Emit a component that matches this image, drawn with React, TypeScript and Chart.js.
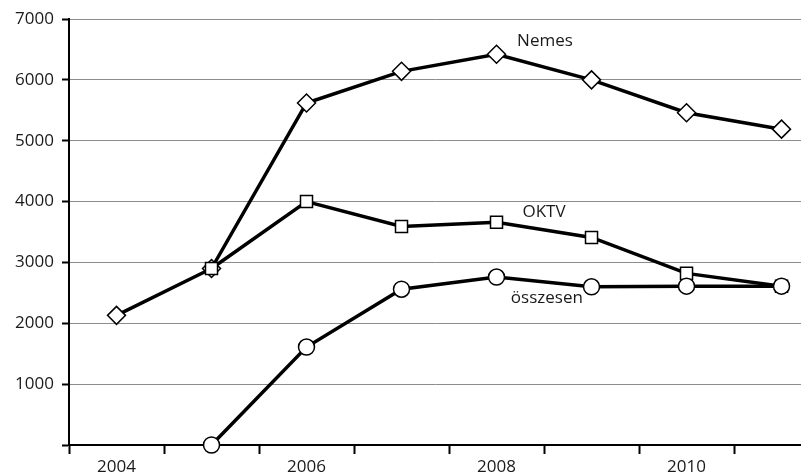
import React, { useEffect, useRef } from "react";
import { Chart, registerables } from "chart.js";

Chart.register(...registerables);

const years = [2004, 2005, 2006, 2007, 2008, 2009, 2010, 2011];
const nemes = [2130, 2900, 5620, 6140, 6420, 6000, 5460, 5190];
const oktv = [null, 2900, 4000, 3590, 3660, 3410, 2820, 2610];
const osszesen = [null, 0, 1610, 2560, 2760, 2600, 2610, 2610];

const xLabelYears = [2004, 2006, 2008, 2010];
const xTickBounds = [2003.5, 2004.5, 2005.5, 2006.5, 2007.5, 2008.5, 2009.5, 2010.5];
const yTicks = [0, 1000, 2000, 3000, 4000, 5000, 6000, 7000];

const seriesLabels = [
  { text: "Nemes", x: 2008.51, y: 6640 },
  { text: "OKTV", x: 2008.5, y: 3830 },
  { text: "összesen", x: 2008.53, y: 2410 },
];

const FONT = "'Open Sans', 'DejaVu Sans', sans-serif";

const labelPlugin = {
  id: "seriesLabels",
  afterDatasetsDraw(chart: any) {
    const { ctx, scales } = chart;
    ctx.save();
    ctx.font = `17px ${FONT}`;
    ctx.fillStyle = "#1a1a1a";
    ctx.textAlign = "center";
    ctx.textBaseline = "middle";
    for (const l of seriesLabels) {
      ctx.fillText(l.text, scales.x.getPixelForValue(l.x), scales.y.getPixelForValue(l.y));
    }
    ctx.restore();
  },
};

export default function App() {
  const ref = useRef<HTMLCanvasElement | null>(null);
  useEffect(() => {
    document.body.style.margin = "0";
    const toPts = (arr: (number | null)[]) =>
      arr.map((v, i) => ({ x: years[i], y: v }));
    const common = {
      borderColor: "#000",
      borderWidth: 3.5,
      pointBackgroundColor: "#fff",
      pointBorderColor: "#000",
      pointBorderWidth: 1.5,
      tension: 0,
      spanGaps: false,
      clip: false,
    };
    const chart = new Chart(ref.current as HTMLCanvasElement, {
      type: "line",
      data: {
        datasets: [
          { ...common, label: "összesen", data: toPts(osszesen), pointStyle: "circle", pointRadius: 8, order: 0 },
          { ...common, label: "OKTV", data: toPts(oktv), pointStyle: "rect", pointRadius: 8.5, order: 1 },
          { ...common, label: "Nemes", data: toPts(nemes), pointStyle: "rectRot", pointRadius: 9, order: 2 },
        ] as any,
      },
      options: {
        animation: false,
        responsive: false,
        maintainAspectRatio: false,
        layout: { autoPadding: false, padding: { top: 19, right: 0, bottom: 0, left: 0 } },
        plugins: { legend: { display: false }, tooltip: { enabled: false } },
        scales: {
          x: {
            type: "linear",
            min: 2003.5,
            max: 2011.205,
            afterBuildTicks: (scale: any) => {
              const vals = [...xTickBounds, ...xLabelYears].sort((a, b) => a - b);
              scale.ticks = vals.map((v) => ({ value: v }));
            },
            afterFit: (scale: any) => {
              scale.height = 28;
              scale.paddingLeft = 0;
              scale.paddingRight = 0;
            },
            ticks: {
              autoSkip: false,
              maxRotation: 0,
              padding: 3,
              color: "#1a1a1a",
              font: { family: FONT, size: 17 },
              callback: (v: any) => (xLabelYears.includes(Number(v)) ? String(v) : ""),
            },
            grid: {
              drawOnChartArea: false,
              tickLength: 9,
              tickWidth: 2,
              tickColor: (ctx: any) =>
                ctx.tick && xTickBounds.includes(ctx.tick.value) ? "#000" : "rgba(0,0,0,0)",
            },
            border: { display: true, color: "#000", width: 2 },
          },
          y: {
            min: 0,
            max: 7000,
            afterBuildTicks: (scale: any) => {
              scale.ticks = yTicks.map((v) => ({ value: v }));
            },
            afterFit: (scale: any) => {
              scale.width = 69;
              scale.paddingTop = 0;
              scale.paddingBottom = 0;
            },
            ticks: {
              padding: 8,
              color: "#1a1a1a",
              font: { family: FONT, size: 17 },
              callback: (v: any) => (Number(v) === 0 ? "" : String(v)),
            },
            grid: {
              color: "#8c8c8c",
              lineWidth: 1,
              tickLength: 7,
              tickColor: "#000",
              tickWidth: 2,
            },
            border: { display: true, color: "#000", width: 2 },
          },
        },
      } as any,
      plugins: [labelPlugin],
    });
    return () => chart.destroy();
  }, []);
  return (
    <div style={{ position: "absolute", left: 0, top: 0, width: 801, height: 473, background: "#fff" }}>
      <canvas ref={ref} width={801} height={473} style={{ display: "block" }} />
    </div>
  );
}
